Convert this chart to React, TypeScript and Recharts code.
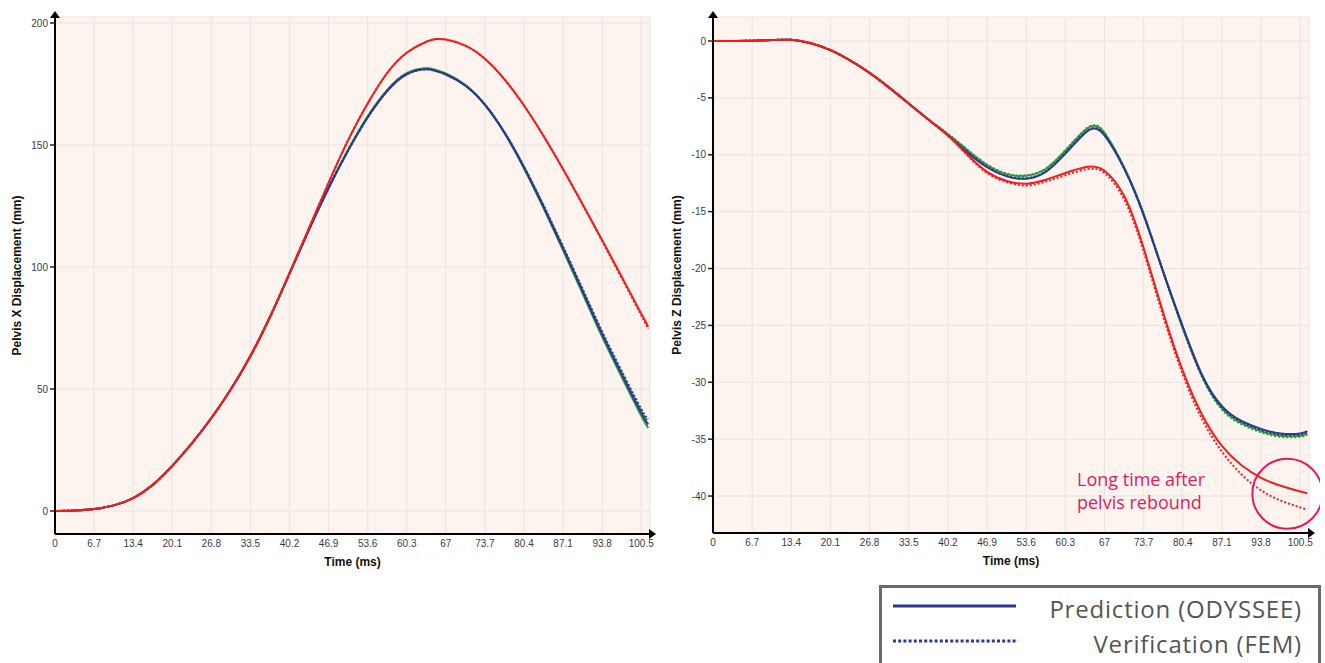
import React from 'react';
import { LineChart, Line, XAxis, YAxis, CartesianGrid, ReferenceDot } from 'recharts';

const time = [0, 3.35, 6.7, 10.05, 13.4, 16.75, 20.1, 23.45, 26.8, 30.15, 33.5, 36.85, 40.2, 43.55, 46.9, 50.25, 53.6, 56.95, 60.3, 63.65, 65.3, 67, 70.35, 73.7, 77.05, 80.4, 83.75, 87.1, 90.45, 93.8, 97.15, 100.5, 101.7];

// Pelvis X displacement (mm)
const xBluePred = [0, 0.2, 0.8, 2.3, 5.3, 10.7, 18.5, 27.7, 38.1, 49.9, 63.5, 79.5, 97.3, 115.3, 132.3, 147.7, 161.3, 172.1, 179.0, 181.0, 180.3, 178.9, 174.3, 166.4, 155, 140.8, 124.7, 107.6, 90, 72.4, 56, 40.2, 35.5];
const xGreenPred = [0, 0.2, 0.8, 2.3, 5.3, 10.7, 18.5, 27.7, 38.1, 49.9, 63.5, 79.5, 97.3, 115.4, 132.6, 148.1, 161.8, 172.6, 179.5, 181.5, 180.8, 179.3, 174.6, 166.5, 154.9, 140.4, 124.1, 106.8, 89.1, 71.4, 54.9, 39.0, 34.0];
const xBlueVer = [0, 0.2, 0.8, 2.3, 5.3, 10.7, 18.5, 27.7, 38.1, 49.9, 63.5, 79.5, 97.3, 115.3, 132.3, 147.7, 161.3, 172.1, 179.0, 181.0, 180.3, 178.9, 174.4, 166.6, 155.3, 141.2, 125.3, 108.4, 91, 73.5, 57.3, 41.8, 37.6];
const xGreenVer = [0, 0.2, 0.8, 2.3, 5.3, 10.7, 18.5, 27.7, 38.1, 49.9, 63.5, 79.5, 97.3, 115.4, 132.5, 148, 161.7, 172.5, 179.4, 181.4, 180.7, 179.2, 174.6, 166.7, 155.3, 141.1, 125.1, 108.1, 90.6, 73, 56.7, 41.1, 36.8];
const xRedPred = [0, 0.2, 0.8, 2.3, 5.3, 10.7, 18.5, 27.7, 38.1, 49.9, 63.5, 79.5, 97.5, 116, 134.5, 152, 167, 179.5, 187.8, 192.3, 193.4, 193.2, 190.7, 185.3, 176.9, 166.2, 153.7, 140.1, 125.7, 111, 96, 80.9, 75.5];
const xRedVer = [0, 0.2, 0.8, 2.3, 5.3, 10.7, 18.5, 27.7, 38.1, 49.9, 63.5, 79.5, 97.5, 116, 134.5, 152, 167, 179.5, 187.8, 192.3, 193.4, 193.2, 190.7, 185.3, 176.9, 166.2, 153.7, 140.1, 125.5, 110.6, 95.4, 80.2, 74.6];

// Pelvis Z displacement (mm)
const zBluePred = [0, 0, 0.03, 0.08, 0.1, -0.2, -0.8, -1.7, -2.8, -4.1, -5.5, -6.9, -8.3, -9.8, -11.1, -11.9, -12.1, -11.5, -9.9, -8.1, -7.7, -8.3, -11.2, -15.3, -20.3, -25.1, -29.4, -32.1, -33.4, -34.1, -34.5, -34.5, -34.3];
const zGreenPred = [0, 0, 0.03, 0.08, 0.1, -0.2, -0.8, -1.7, -2.8, -4.1, -5.5, -6.9, -8.2, -9.6, -10.9, -11.7, -11.85, -11.25, -9.65, -7.85, -7.45, -8.1, -11.1, -15.2, -20.3, -25.2, -29.5, -32.3, -33.6, -34.3, -34.7, -34.7, -34.5];
const zBlueVer = [0, 0, 0.03, 0.08, 0.1, -0.2, -0.8, -1.7, -2.8, -4.1, -5.5, -6.9, -8.3, -9.75, -11.05, -11.85, -12.05, -11.45, -9.85, -8.05, -7.65, -8.25, -11.2, -15.3, -20.3, -25.2, -29.5, -32.2, -33.5, -34.2, -34.6, -34.6, -34.4];
const zGreenVer = [0, 0, 0.03, 0.08, 0.1, -0.2, -0.8, -1.7, -2.8, -4.1, -5.5, -6.9, -8.15, -9.55, -10.85, -11.65, -11.8, -11.2, -9.6, -7.8, -7.4, -8.05, -11.1, -15.2, -20.3, -25.3, -29.6, -32.4, -33.7, -34.4, -34.8, -34.8, -34.6];
const zRedPred = [0, 0, 0.03, 0.08, 0.1, -0.2, -0.8, -1.7, -2.8, -4.1, -5.5, -6.9, -8.3, -10.0, -11.5, -12.3, -12.55, -12.2, -11.6, -11.1, -11.05, -11.4, -13.6, -18.2, -23.9, -29.0, -32.9, -35.6, -37.3, -38.4, -39.1, -39.6, -39.75];
const zRedVer = [0, 0, 0.03, 0.08, 0.1, -0.2, -0.8, -1.7, -2.8, -4.1, -5.5, -6.9, -8.3, -10.05, -11.6, -12.4, -12.7, -12.35, -11.8, -11.3, -11.25, -11.6, -13.9, -18.5, -24.2, -29.3, -33.3, -36.1, -38.1, -39.5, -40.4, -41.0, -41.2];

const xTicks = [0, 6.7, 13.4, 20.1, 26.8, 33.5, 40.2, 46.9, 53.6, 60.3, 67, 73.7, 80.4, 87.1, 93.8, 100.5];
const leftYTicks = [0, 50, 100, 150, 200];
const rightYTicks = [0, -5, -10, -15, -20, -25, -30, -35, -40];

const legendLabels = ['Prediction (ODYSSEE)', 'Verification (FEM)'];
const noteLines = ['Long time after', 'pelvis rebound'];

const BLUE = '#2b3990';
const RED = '#f21d1d';
const GREEN = '#2f9a3a';
const NOTE = '#e6195b';

function buildRows(gp: number[], gv: number[], bp: number[], bv: number[], rp: number[], rv: number[]) {
  return time.map((t, i) => ({ t, gp: gp[i], gv: gv[i], bp: bp[i], bv: bv[i], rp: rp[i], rv: rv[i] }));
}

const leftRows = buildRows(xGreenPred, xGreenVer, xBluePred, xBlueVer, xRedPred, xRedVer);
const rightRows = buildRows(zGreenPred, zGreenVer, zBluePred, zBlueVer, zRedPred, zRedVer);

const tickStyle = { fontSize: 10, fill: '#3a3a44', fontFamily: '"Liberation Sans", Arial, sans-serif' };

function YDecor(props: any) {
  const vb = props.viewBox || {};
  const x = vb.x || 0, y = vb.y || 0, w = vb.width || 0, h = vb.height || 0;
  const ax = x + w;
  return (
    <g>
      <line x1={ax} y1={y - 2} x2={ax} y2={y + 2} stroke="#000" strokeWidth={2} />
      <polygon points={`${ax - 5},${y + 1} ${ax},${y - 6} ${ax + 5},${y + 1}`} fill="#000" />
      <text
        transform={`translate(${x + 17},${y + h / 2}) rotate(-90)`}
        textAnchor="middle"
        dominantBaseline="central"
        style={{ fontSize: 12, fontWeight: 700, fill: '#111', fontFamily: '"Liberation Sans", Arial, sans-serif' }}
      >
        {props.title}
      </text>
    </g>
  );
}

function XDecor(props: any) {
  const vb = props.viewBox || {};
  const x = vb.x || 0, y = vb.y || 0, w = vb.width || 0;
  const ax = x + w;
  return (
    <g>
      <line x1={ax - 2} y1={y} x2={ax + 2} y2={y} stroke="#000" strokeWidth={2} />
      <polygon points={`${ax - 1},${y - 5} ${ax + 6},${y} ${ax - 1},${y + 5}`} fill="#000" />
      <text
        x={x + w / 2}
        y={y + 28}
        textAnchor="middle"
        dominantBaseline="central"
        style={{ fontSize: 12, fontWeight: 700, fill: '#111', fontFamily: '"Liberation Sans", Arial, sans-serif' }}
      >
        Time (ms)
      </text>
    </g>
  );
}

function seriesLines() {
  const common = { type: 'natural' as const, dot: false, isAnimationActive: false, strokeWidth: 2 };
  return [
    <Line key="gp" dataKey="gp" stroke={GREEN} {...common} />,
    <Line key="gv" dataKey="gv" stroke={GREEN} strokeDasharray="2 2" {...common} />,
    <Line key="bp" dataKey="bp" stroke={BLUE} {...common} />,
    <Line key="bv" dataKey="bv" stroke={BLUE} strokeDasharray="2 2" {...common} />,
    <Line key="rp" dataKey="rp" stroke={RED} {...common} />,
    <Line key="rv" dataKey="rv" stroke={RED} strokeDasharray="2 2" {...common} />,
  ];
}

const legendTextStyle = { fontFamily: '"Open Sans", sans-serif', fontSize: 24, letterSpacing: 0.8, fill: '#555' };

export default function App() {
  return (
    <div style={{ position: 'absolute', left: 0, top: 0, width: 1325, height: 663, overflow: 'hidden', background: '#fff' }}>
      <div style={{ position: 'absolute', left: 0, top: 0 }}>
        <LineChart width={660} height={580} data={leftRows} margin={{ top: 17, right: 10, bottom: 16, left: 0 }}>
          <CartesianGrid stroke="#ebe3e0" fill="#fdf4f0" />
          <XAxis
            dataKey="t"
            type="number"
            domain={[0, 102]}
            ticks={xTicks}
            allowDataOverflow
            height={30}
            tick={tickStyle}
            tickSize={4}
            tickLine={false}
            axisLine={{ stroke: '#000', strokeWidth: 2 }}
            label={<XDecor />}
          />
          <YAxis
            type="number"
            domain={[-9.43, 202.46]}
            ticks={leftYTicks}
            allowDataOverflow
            width={55}
            tick={tickStyle}
            tickSize={5}
            tickLine={{ stroke: '#222', strokeWidth: 1.5 }}
            axisLine={{ stroke: '#000', strokeWidth: 2 }}
            label={<YDecor title="Pelvis X Displacement (mm)" />}
          />
          {seriesLines()}
        </LineChart>
      </div>
      <div style={{ position: 'absolute', left: 660, top: 0 }}>
        <LineChart width={660} height={580} data={rightRows} margin={{ top: 17, right: 11, bottom: 17, left: 0 }}>
          <CartesianGrid stroke="#ebe3e0" fill="#fdf4f0" />
          <XAxis
            dataKey="t"
            type="number"
            domain={[0, 102]}
            ticks={xTicks}
            allowDataOverflow
            height={30}
            tick={tickStyle}
            tickSize={4}
            tickLine={false}
            axisLine={{ stroke: '#000', strokeWidth: 2 }}
            label={<XDecor />}
          />
          <YAxis
            type="number"
            domain={[-43.25, 2.11]}
            ticks={rightYTicks}
            allowDataOverflow
            width={53}
            tick={tickStyle}
            tickSize={5}
            tickLine={{ stroke: '#222', strokeWidth: 1.5 }}
            axisLine={{ stroke: '#000', strokeWidth: 2 }}
            label={<YDecor title="Pelvis Z Displacement (mm)" />}
          />
          {seriesLines()}
          <ReferenceDot x={98.3} y={-39.8} r={35} fill="none" stroke={NOTE} strokeWidth={2} ifOverflow="visible" />
        </LineChart>
      </div>
      <div
        style={{
          position: 'absolute',
          left: 1077,
          top: 468,
          color: NOTE,
          fontFamily: '"Open Sans", sans-serif',
          fontSize: 18,
          lineHeight: '23px',
          whiteSpace: 'nowrap',
        }}
      >
        <div>{noteLines[0]}</div>
        <div>{noteLines[1]}</div>
      </div>
      <div
        style={{
          position: 'absolute',
          left: 879,
          top: 585,
          width: 442,
          height: 120,
          border: '3px solid #6a6a6a',
          boxSizing: 'border-box',
          background: '#fff',
        }}
      />
      <svg style={{ position: 'absolute', left: 0, top: 0 }} width={1325} height={663}>
        <line x1={893} y1={606} x2={1016} y2={606} stroke={BLUE} strokeWidth={3} />
        <line x1={893} y1={641} x2={1018} y2={641} stroke={BLUE} strokeWidth={3} strokeDasharray="3 2.2" />
        <text x={1302} y={608} textAnchor="end" dominantBaseline="central" style={legendTextStyle}>
          {legendLabels[0]}
        </text>
        <text x={1302} y={643} textAnchor="end" dominantBaseline="central" style={legendTextStyle}>
          {legendLabels[1]}
        </text>
      </svg>
    </div>
  );
}
